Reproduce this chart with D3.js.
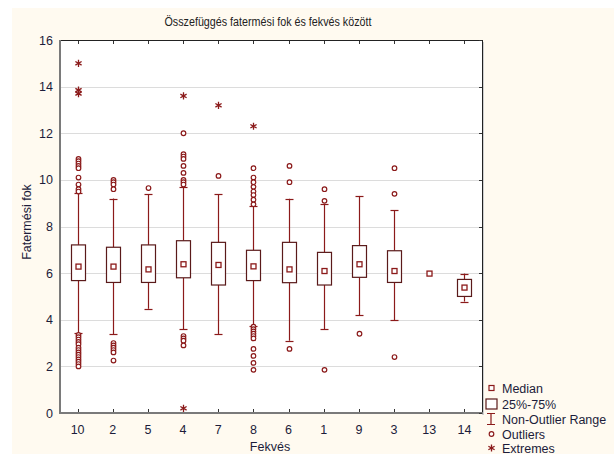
<!DOCTYPE html>
<html>
<head>
<meta charset="utf-8">
<script src="https://cdn.jsdelivr.net/npm/d3@7"></script>
<style>
  html, body { margin: 0; padding: 0; background: #ffffff; }
  svg { display: block; font-family: "Liberation Sans", Arial, sans-serif; }
</style>
</head>
<body>
<svg id="chart" width="614" height="454"></svg>
<script>
// Fatermési fok by fekvés: box plot summary per category
const categories = ["10", "2", "5", "4", "7", "8", "6", "1", "9", "3", "13", "14"];
const medians    = [6.28, 6.28, 6.16, 6.38, 6.35, 6.29, 6.16, 6.09, 6.38, 6.09, 5.98, 5.38];
const q1         = [5.68, 5.60, 5.60, 5.80, 5.49, 5.68, 5.59, 5.49, 5.82, 5.60, 5.98, 5.00];
const q3         = [7.21, 7.11, 7.21, 7.39, 7.32, 6.98, 7.32, 6.89, 7.18, 6.96, 5.98, 5.73];
const whiskerLow  = [3.44, 3.39, 4.47, 3.59, 3.39, 3.73, 3.10, 3.60, 4.19, 3.99, 5.98, 4.78];
const whiskerHigh = [9.42, 9.20, 9.39, 9.71, 9.39, 8.89, 9.19, 8.97, 9.31, 8.69, 5.98, 5.98];
const outliers = [
  [10.9, 10.8, 10.7, 10.6, 10.5, 10.1, 9.8, 9.6, 9.5, 3.35, 3.25, 3.15, 3.05, 2.95, 2.8, 2.7, 2.6, 2.5, 2.4, 2.3, 2.2, 2.1, 2.0],
  [10.0, 9.9, 9.8, 9.6, 3.0, 2.9, 2.8, 2.7, 2.6, 2.25],
  [9.65],
  [12.0, 11.1, 11.0, 10.9, 10.6, 10.3, 10.0, 9.9, 9.8, 3.3, 3.2, 3.1, 2.9],
  [10.17],
  [10.5, 10.1, 9.9, 9.7, 9.5, 9.35, 9.15, 8.95, 3.7, 3.6, 3.5, 3.4, 3.3, 3.2, 2.75, 2.45, 2.15, 1.85],
  [10.6, 9.9, 2.75],
  [9.6, 9.1, 1.85],
  [3.4],
  [10.5, 9.4, 2.4],
  [],
  []
];
const extremes = [
  [15.0, 13.85, 13.7],
  [], [],
  [13.6, 0.2],
  [13.2],
  [12.3],
  [], [], [], [], [], []
];
const yTicks = [0, 2, 4, 6, 8, 10, 12, 14, 16];
const legendItems = ["Median", "25%-75%", "Non-Outlier Range", "Outliers", "Extremes"];

const boxColor = "#5a1a1a";
const markColor = "#8b1a1a";
const textColor = "#1c1c3a";

const svg = d3.select("#chart");
const W = 614, H = 454;
const plot = { left: 60, top: 40, right: 482, bottom: 413 };

// page background
svg.append("rect").attr("x", 12).attr("y", 8).attr("width", W - 12).attr("height", H - 8)
  .attr("fill", "#fffaf0");

const x = d3.scaleBand().domain(categories).range([plot.left, plot.right]).padding(0);
const y = d3.scaleLinear().domain([0, 16]).range([plot.bottom, plot.top]);

// plot area with a faint shadow on the right
svg.append("rect").attr("x", plot.right).attr("y", plot.top + 2)
  .attr("width", 2).attr("height", plot.bottom - plot.top)
  .attr("fill", "#cfcfcf");
svg.append("rect").attr("x", plot.left).attr("y", plot.top)
  .attr("width", plot.right - plot.left).attr("height", plot.bottom - plot.top)
  .attr("fill", "#ffffff");

// horizontal grid
svg.append("g").selectAll("line").data(yTicks.filter(t => t > 0 && t < 16)).join("line")
  .attr("x1", plot.left).attr("x2", plot.right)
  .attr("y1", d => Math.round(y(d)) + 0.5).attr("y2", d => Math.round(y(d)) + 0.5)
  .attr("stroke", "#dcdcdc").attr("stroke-width", 1.2);

// frame: dark top/right, grey left/bottom
svg.append("line").attr("x1", plot.left).attr("x2", plot.right).attr("y1", plot.top + 0.5).attr("y2", plot.top + 0.5)
  .attr("stroke", "#222").attr("stroke-width", 1);
svg.append("line").attr("x1", plot.right + 0.5).attr("x2", plot.right + 0.5).attr("y1", plot.top).attr("y2", plot.bottom)
  .attr("stroke", "#222").attr("stroke-width", 1);
svg.append("line").attr("x1", plot.left).attr("x2", plot.left).attr("y1", plot.top).attr("y2", plot.bottom + 1)
  .attr("stroke", "#7a7a7a").attr("stroke-width", 2);
svg.append("line").attr("x1", plot.left).attr("x2", plot.right + 1).attr("y1", plot.bottom).attr("y2", plot.bottom)
  .attr("stroke", "#7a7a7a").attr("stroke-width", 2);

// axes
const xAxis = d3.axisBottom(x).tickSize(0).tickPadding(12);
const gx = svg.append("g").attr("transform", `translate(0,${plot.bottom})`).call(xAxis);
gx.select(".domain").remove();
gx.selectAll("text").attr("fill", textColor).attr("font-size", 12.5).attr("font-family", "Liberation Sans, Arial, sans-serif");

const yAxis = d3.axisLeft(y).tickValues(yTicks).tickSize(0).tickPadding(7);
const gy = svg.append("g").attr("transform", `translate(${plot.left},0)`).call(yAxis);
gy.select(".domain").remove();
gy.selectAll("text").attr("fill", textColor).attr("font-size", 12.5).attr("font-family", "Liberation Sans, Arial, sans-serif");

// inner tick marks
const tickG = svg.append("g").attr("stroke", "#333").attr("stroke-width", 1);
categories.forEach(c => {
  const cx = Math.round(x(c) + x.bandwidth() / 2) + 0.5;
  tickG.append("line").attr("x1", cx).attr("x2", cx).attr("y1", plot.bottom - 1).attr("y2", plot.bottom - 4);
  tickG.append("line").attr("x1", cx).attr("x2", cx).attr("y1", plot.top + 1).attr("y2", plot.top + 4);
});
yTicks.forEach(t => {
  const ty = Math.round(y(t)) + 0.5;
  tickG.append("line").attr("x1", plot.right).attr("x2", plot.right - 3).attr("y1", ty).attr("y2", ty);
});

// boxes
const boxW = 14, capW = 8, medS = 5;
const gBoxes = svg.append("g");
categories.forEach((c, i) => {
  const cx = Math.round(x(c) + x.bandwidth() / 2) + 0.5;
  const g = gBoxes.append("g");
  if (whiskerHigh[i] > whiskerLow[i]) {
    g.append("line").attr("x1", cx).attr("x2", cx)
      .attr("y1", y(whiskerLow[i])).attr("y2", y(q1[i]))
      .attr("stroke", markColor).attr("stroke-width", 1.2);
    g.append("line").attr("x1", cx).attr("x2", cx)
      .attr("y1", y(q3[i])).attr("y2", y(whiskerHigh[i]))
      .attr("stroke", markColor).attr("stroke-width", 1.2);
    [whiskerLow[i], whiskerHigh[i]].forEach(v => {
      g.append("line").attr("x1", cx - capW / 2).attr("x2", cx + capW / 2)
        .attr("y1", Math.round(y(v)) + 0.5).attr("y2", Math.round(y(v)) + 0.5)
        .attr("stroke", markColor).attr("stroke-width", 1.2);
    });
  }
  if (q3[i] > q1[i]) {
    g.append("rect").attr("x", cx - boxW / 2).attr("y", y(q3[i]))
      .attr("width", boxW).attr("height", y(q1[i]) - y(q3[i]))
      .attr("fill", "#ffffff").attr("stroke", boxColor).attr("stroke-width", 1.2);
  }
  g.append("rect").attr("x", cx - medS / 2).attr("y", y(medians[i]) - medS / 2)
    .attr("width", medS).attr("height", medS)
    .attr("fill", "#ffffff").attr("stroke", markColor).attr("stroke-width", 1.3);
  outliers[i].forEach(v => {
    g.append("circle").attr("cx", cx).attr("cy", y(v)).attr("r", 2.3)
      .attr("fill", "#ffffff").attr("stroke", markColor).attr("stroke-width", 1.2);
  });
  extremes[i].forEach(v => {
    g.append("path").attr("d", d3.symbol(d3.symbolAsterisk, 36)())
      .attr("transform", `translate(${cx},${y(v)})`)
      .attr("fill", "none").attr("stroke", markColor).attr("stroke-width", 1.3);
  });
});

// titles (the chart title uses a condensed rendering)
svg.append("text").attr("x", 268).attr("y", 26).attr("text-anchor", "middle")
  .attr("font-size", 12.5).attr("fill", "#222")
  .attr("textLength", 207).attr("lengthAdjust", "spacingAndGlyphs")
  .text("Összefüggés fatermési fok és fekvés között");
svg.append("text").attr("x", 270).attr("y", 451).attr("text-anchor", "middle")
  .attr("font-size", 12.5).attr("fill", textColor).text("Fekvés");
svg.append("text").attr("transform", "translate(31,222) rotate(-90)").attr("text-anchor", "middle")
  .attr("font-size", 12.5).attr("fill", textColor).text("Fatermési fok");

// legend
const lg = svg.append("g").attr("transform", "translate(491,0)");
const rowY = [388, 404, 419, 434, 448];
legendItems.forEach((label, i) => {
  lg.append("text").attr("x", 11).attr("y", rowY[i] + 4.5).attr("font-size", 12.5)
    .attr("fill", textColor).text(label);
});
// median square
lg.append("rect").attr("x", -2).attr("y", rowY[0] - 2.5).attr("width", 5).attr("height", 5)
  .attr("fill", "#fff").attr("stroke", markColor).attr("stroke-width", 1.2);
// box
lg.append("rect").attr("x", -5).attr("y", rowY[1] - 5).attr("width", 11).attr("height", 10)
  .attr("fill", "#fff").attr("stroke", boxColor).attr("stroke-width", 1.2);
// non-outlier range
lg.append("path").attr("d", `M-4,${rowY[2] - 5.5}H4M0,${rowY[2] - 5.5}V${rowY[2] + 5.5}M-4,${rowY[2] + 5.5}H4`)
  .attr("fill", "none").attr("stroke", markColor).attr("stroke-width", 1.2);
// outlier
lg.append("circle").attr("cx", 0.5).attr("cy", rowY[3]).attr("r", 2.3)
  .attr("fill", "#fff").attr("stroke", markColor).attr("stroke-width", 1.2);
// extreme
lg.append("path").attr("d", d3.symbol(d3.symbolAsterisk, 36)())
  .attr("transform", `translate(0.5,${rowY[4]})`)
  .attr("fill", "none").attr("stroke", markColor).attr("stroke-width", 1.3);
</script>
</body>
</html>
